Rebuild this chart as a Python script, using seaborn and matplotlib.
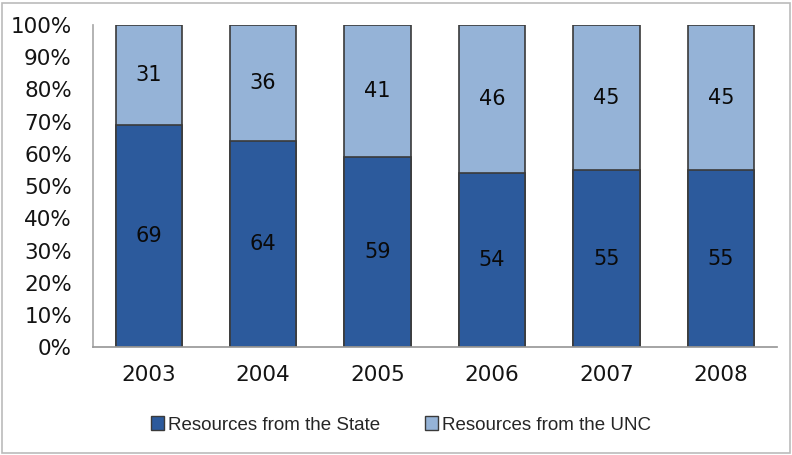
import matplotlib
matplotlib.use("Agg")
import matplotlib.pyplot as plt
import seaborn as sns
import pandas as pd
from matplotlib.patches import Patch, Rectangle

years = ["2003", "2004", "2005", "2006", "2007", "2008"]
state = [69, 64, 59, 54, 55, 55]
unc = [31, 36, 41, 46, 45, 45]
series_names = ["Resources from the State", "Resources from the UNC"]

DARK = "#2C5A9C"
LIGHT = "#95B3D7"
EDGE = "#3A3A3A"

sns.set_theme(style="white")
plt.rcParams["font.family"] = ["DejaVu Sans"]

df = pd.DataFrame({"year": years, "state": state, "unc": unc})
df["total"] = df["state"] + df["unc"]

fig = plt.figure(figsize=(7.92, 4.55), dpi=100)
ax = fig.add_axes([0.117, 0.237, 0.864, 0.708])

# stacked: draw total (light) then state (dark) on top
sns.barplot(data=df, x="year", y="total", color=LIGHT, width=0.58,
            edgecolor=EDGE, linewidth=1.2, saturation=1, ax=ax)
sns.barplot(data=df, x="year", y="state", color=DARK, width=0.58,
            edgecolor=EDGE, linewidth=1.2, saturation=1, ax=ax)

for i, (s, u) in enumerate(zip(state, unc)):
    ax.text(i, s / 2, str(s), ha="center", va="center", fontsize=15, color="#0a0a0a")
    ax.text(i, s + u / 2, str(u), ha="center", va="center", fontsize=15, color="#0a0a0a")

ax.set_ylim(0, 100)
ax.set_xlim(-0.49, 5.49)
ax.set_yticks(range(0, 101, 10))
ax.set_yticklabels([f"{v}%" for v in range(0, 101, 10)], fontsize=15.5, color="#141414")
ax.set_xticks(range(len(years)))
ax.set_xticklabels(years, fontsize=15.5, color="#141414")
ax.tick_params(axis="y", length=0, pad=15)
ax.tick_params(axis="x", length=0, pad=13)
ax.set_xlabel("")
ax.set_ylabel("")
for side in ["top", "right"]:
    ax.spines[side].set_visible(False)
ax.spines["left"].set_color("#aaaaaa")
ax.spines["bottom"].set_color("#999999")

handles = [Patch(facecolor=DARK, edgecolor=EDGE, label=series_names[0]),
           Patch(facecolor=LIGHT, edgecolor=EDGE, label=series_names[1])]
fig.legend(handles=handles, loc="center", bbox_to_anchor=(0.506, 0.066), ncol=2,
           frameon=False, prop={"family": "Liberation Sans", "size": 13.5},
           handlelength=0.7, handleheight=0.7, handletextpad=0.2, columnspacing=2.4)

fig.patches.append(Rectangle((0.003, 0.004), 0.994, 0.99, transform=fig.transFigure,
                             fill=False, edgecolor="#BBBBBB", linewidth=1.2))

fig.savefig("out.png", dpi=100)
